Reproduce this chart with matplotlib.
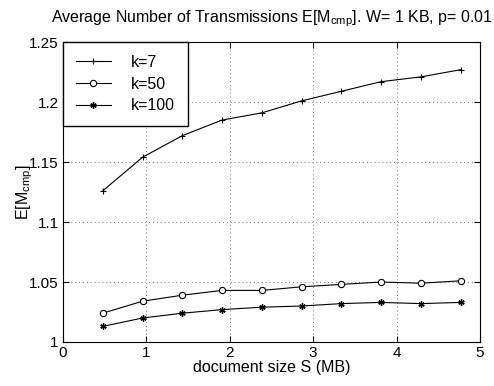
import matplotlib
matplotlib.use("Agg")
import matplotlib.pyplot as plt

plt.rcParams['font.family'] = ['Liberation Sans', 'DejaVu Sans']
plt.rcParams['mathtext.fontset'] = 'custom'
plt.rcParams['mathtext.rm'] = 'Liberation Sans'
plt.rcParams['mathtext.it'] = 'Liberation Sans'

# document sizes in MB
sizes = [0.477, 0.954, 1.431, 1.908, 2.385, 2.862, 3.339, 3.816, 4.293, 4.77]
k7 = [1.126, 1.154, 1.172, 1.185, 1.191, 1.201, 1.209, 1.217, 1.221, 1.227]
k50 = [1.024, 1.034, 1.039, 1.043, 1.043, 1.046, 1.048, 1.050, 1.049, 1.051]
k100 = [1.013, 1.020, 1.024, 1.027, 1.029, 1.030, 1.032, 1.033, 1.032, 1.033]

fig = plt.figure(figsize=(4.94, 3.86), dpi=100)
ax = fig.add_axes([0.1275, 0.114, 0.844, 0.777])

ax.plot(sizes, k7, color='black', lw=0.8, marker='+', ms=5, mew=0.8, label='k=7')
ax.plot(sizes, k50, color='black', lw=0.8, marker='o', ms=4.5, mfc='white', mew=0.8, label='k=50')
ax.plot(sizes, k100, color='black', lw=0.8, marker=(6, 2, 0), ms=4.5, mew=1.0, label='k=100')

ax.set_xlim(0, 5)
ax.set_ylim(1, 1.25)
ax.set_xticks([0, 1, 2, 3, 4, 5])
ax.set_yticks([1, 1.05, 1.1, 1.15, 1.2, 1.25])
ax.set_yticklabels(['1', '1.05', '1.1', '1.15', '1.2', '1.25'])
ax.tick_params(direction='in', top=True, right=True, labelsize=11, length=4, width=0.8, pad=3)
ax.grid(True, linestyle=(0, (1, 3)), color='#777777', lw=0.7)
for s in ax.spines.values():
    s.set_linewidth(0.8)

ax.set_xlabel('document size S (MB)', fontsize=11.5, labelpad=0)
ax.set_ylabel(r'E[M$_{\mathrm{cmp}}$]', fontsize=11.5, labelpad=-4)
ax.set_title(r'Average Number of Transmissions E[M$_{\mathrm{cmp}}$]. W= 1 KB, p= 0.01',
             fontsize=11.5, pad=14)

leg = ax.legend(loc='upper left', borderaxespad=0, fancybox=False, edgecolor='black',
                framealpha=1, fontsize=11.5, handlelength=2.2, borderpad=0.8,
                labelspacing=0.42, handletextpad=1.25)
leg.get_frame().set_linewidth(1.0)

fig.savefig('out.png', dpi=100)
